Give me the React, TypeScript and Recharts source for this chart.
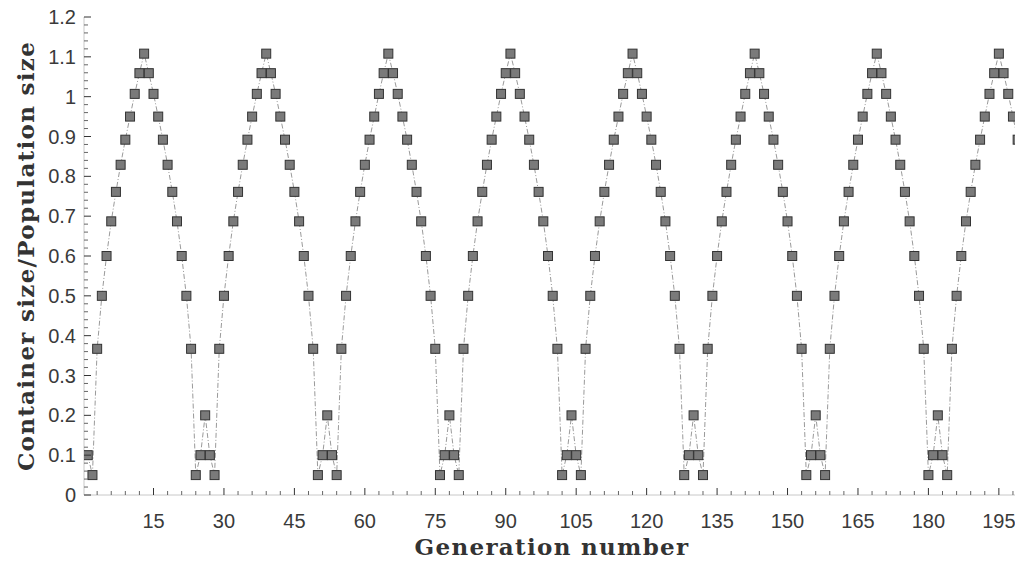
import { Line, LineChart, XAxis, YAxis } from 'recharts';

// container size / population size, generations 1..199 (period of 26)
const containerRatio = [
  0.1, 0.05, 0.367, 0.5, 0.6, 0.687, 0.761, 0.829, 0.892, 0.95, 1.007, 1.059, 1.108, 1.059, 1.007, 0.95, 0.892, 0.829, 0.761, 0.687, 0.6, 0.5, 0.367, 0.05, 0.1, 0.2,
  0.1, 0.05, 0.367, 0.5, 0.6, 0.687, 0.761, 0.829, 0.892, 0.95, 1.007, 1.059, 1.108, 1.059, 1.007, 0.95, 0.892, 0.829, 0.761, 0.687, 0.6, 0.5, 0.367, 0.05, 0.1, 0.2,
  0.1, 0.05, 0.367, 0.5, 0.6, 0.687, 0.761, 0.829, 0.892, 0.95, 1.007, 1.059, 1.108, 1.059, 1.007, 0.95, 0.892, 0.829, 0.761, 0.687, 0.6, 0.5, 0.367, 0.05, 0.1, 0.2,
  0.1, 0.05, 0.367, 0.5, 0.6, 0.687, 0.761, 0.829, 0.892, 0.95, 1.007, 1.059, 1.108, 1.059, 1.007, 0.95, 0.892, 0.829, 0.761, 0.687, 0.6, 0.5, 0.367, 0.05, 0.1, 0.2,
  0.1, 0.05, 0.367, 0.5, 0.6, 0.687, 0.761, 0.829, 0.892, 0.95, 1.007, 1.059, 1.108, 1.059, 1.007, 0.95, 0.892, 0.829, 0.761, 0.687, 0.6, 0.5, 0.367, 0.05, 0.1, 0.2,
  0.1, 0.05, 0.367, 0.5, 0.6, 0.687, 0.761, 0.829, 0.892, 0.95, 1.007, 1.059, 1.108, 1.059, 1.007, 0.95, 0.892, 0.829, 0.761, 0.687, 0.6, 0.5, 0.367, 0.05, 0.1, 0.2,
  0.1, 0.05, 0.367, 0.5, 0.6, 0.687, 0.761, 0.829, 0.892, 0.95, 1.007, 1.059, 1.108, 1.059, 1.007, 0.95, 0.892, 0.829, 0.761, 0.687, 0.6, 0.5, 0.367, 0.05, 0.1, 0.2,
  0.1, 0.05, 0.367, 0.5, 0.6, 0.687, 0.761, 0.829, 0.892, 0.95, 1.007, 1.059, 1.108, 1.059, 1.007, 0.95, 0.892,
];

const xMajorTicks = [15, 30, 45, 60, 75, 90, 105, 120, 135, 150, 165, 180, 195];
const yMajorTicks = [0, 0.1, 0.2, 0.3, 0.4, 0.5, 0.6, 0.7, 0.8, 0.9, 1, 1.1, 1.2];
const xMinorStep = 3;
const yMinorStep = 0.02;

const xDomain = [0.2, 199.5];
const yDomain = [0, 1.2];

const xTicks = Array.from({ length: 66 }, (_, i) => (i + 1) * xMinorStep);
const yTicks = Array.from({ length: 61 }, (_, i) => Number((i * yMinorStep).toFixed(2)));

const data = containerRatio.map((v, i) => ({ gen: i + 1, ratio: v }));

const TICK_FONT = '"Liberation Sans", Arial, sans-serif';
const TITLE_FONT = '"DejaVu Serif", serif';
const MARGIN = 10;

const isXMajor = (v: number) => xMajorTicks.includes(v);
const isYMajor = (v: number) => yMajorTicks.some(t => Math.abs(t - v) < 1e-6);

const BottomTick = (props: any) => {
  const { x, y, payload } = props;
  const axisY = y - MARGIN;
  const major = isXMajor(payload.value);
  return (
    <g>
      <line x1={x} x2={x} y1={axisY} y2={axisY - (major ? 7 : 4)} stroke={major ? '#333' : '#666'} />
      {major && (
        <text x={x} y={axisY + 26} dy='0.35em' textAnchor='middle' fontFamily={TICK_FONT} fontSize={20} fill='#3a3a3a'>
          {payload.value}
        </text>
      )}
    </g>
  );
};

const TopTick = (props: any) => {
  const { x, y, payload } = props;
  const axisY = y + MARGIN;
  const major = isXMajor(payload.value);
  return <line x1={x} x2={x} y1={axisY} y2={axisY + (major ? 7 : 4)} stroke={major ? '#333' : '#666'} />;
};

const LeftTick = (props: any) => {
  const { x, y, payload } = props;
  const axisX = x + MARGIN;
  const major = isYMajor(payload.value);
  return (
    <g>
      <line x1={axisX} x2={axisX + (major ? 7 : 4)} y1={y} y2={y} stroke={major ? '#333' : '#666'} />
      {major && (
        <text x={axisX - 8} y={y} dy='0.35em' textAnchor='end' fontFamily={TICK_FONT} fontSize={20} fill='#3a3a3a'>
          {String(Number(payload.value.toFixed(1)))}
        </text>
      )}
    </g>
  );
};

const RightTick = (props: any) => {
  const { x, y, payload } = props;
  const axisX = x - MARGIN;
  const major = isYMajor(payload.value);
  return <line x1={axisX} x2={axisX - (major ? 7 : 4)} y1={y} y2={y} stroke={major ? '#333' : '#666'} />;
};

const SquareDot = (props: any) => {
  const { cx, cy, index } = props;
  if (cx == null || cy == null) return null;
  return <rect key={index} x={cx - 4.5} y={cy - 4.5} width={9} height={9} fill='#7a7a7a' stroke='#333' strokeWidth={1} />;
};

const YTitle = (props: any) => {
  const { viewBox } = props;
  const cx = 26;
  const cy = viewBox.y + viewBox.height / 2;
  return (
    <text
      x={cx}
      y={cy}
      dy='0.35em'
      textAnchor='middle'
      transform={`rotate(-90, ${cx}, ${cy})`}
      fontFamily={TITLE_FONT}
      fontWeight='bold'
      fontSize={23}
      letterSpacing={1.3}
      fill='#333'
    >
      Container size/Population size
    </text>
  );
};

const XTitle = (props: any) => {
  const { viewBox } = props;
  const cx = viewBox.x + viewBox.width / 2;
  return (
    <text x={cx} y={547} dy='0.35em' textAnchor='middle' fontFamily={TITLE_FONT} fontWeight='bold' fontSize={23} letterSpacing={1.3} fill='#333'>
      Generation number
    </text>
  );
};

export default function App() {
  return (
    <div style={{ margin: '-8px 0 0 -8px' }}>
      <LineChart width={1023} height={562} data={data} margin={{ top: 17, right: 3, left: 0, bottom: 0 }}>
        <XAxis
          dataKey='gen'
          type='number'
          domain={xDomain}
          allowDataOverflow
          ticks={xTicks}
          interval={0}
          height={67}
          tickSize={0}
          tickMargin={MARGIN}
          tickLine={false}
          axisLine={{ stroke: '#c8c8c8' }}
          tick={<BottomTick />}
          label={<XTitle />}
        />
        <XAxis
          xAxisId='top'
          orientation='top'
          dataKey='gen'
          type='number'
          domain={xDomain}
          allowDataOverflow
          ticks={xTicks}
          interval={0}
          height={0}
          tickSize={0}
          tickMargin={MARGIN}
          tickLine={false}
          axisLine={{ stroke: '#c8c8c8' }}
          tick={<TopTick />}
        />
        <YAxis
          type='number'
          domain={yDomain}
          allowDataOverflow
          ticks={yTicks}
          interval={0}
          width={84}
          tickSize={0}
          tickMargin={MARGIN}
          tickLine={false}
          axisLine={{ stroke: '#c8c8c8' }}
          tick={<LeftTick />}
          label={<YTitle />}
        />
        <YAxis
          yAxisId='right'
          orientation='right'
          type='number'
          domain={yDomain}
          allowDataOverflow
          ticks={yTicks}
          interval={0}
          width={0}
          tickSize={0}
          tickMargin={MARGIN}
          tickLine={false}
          axisLine={{ stroke: '#c8c8c8' }}
          tick={<RightTick />}
        />
        <Line
          isAnimationActive={false}
          type='linear'
          dataKey='ratio'
          stroke='#9a9a9a'
          strokeWidth={1}
          strokeDasharray='5 2 1 2'
          dot={<SquareDot />}
          activeDot={false}
        />
      </LineChart>
    </div>
  );
}
